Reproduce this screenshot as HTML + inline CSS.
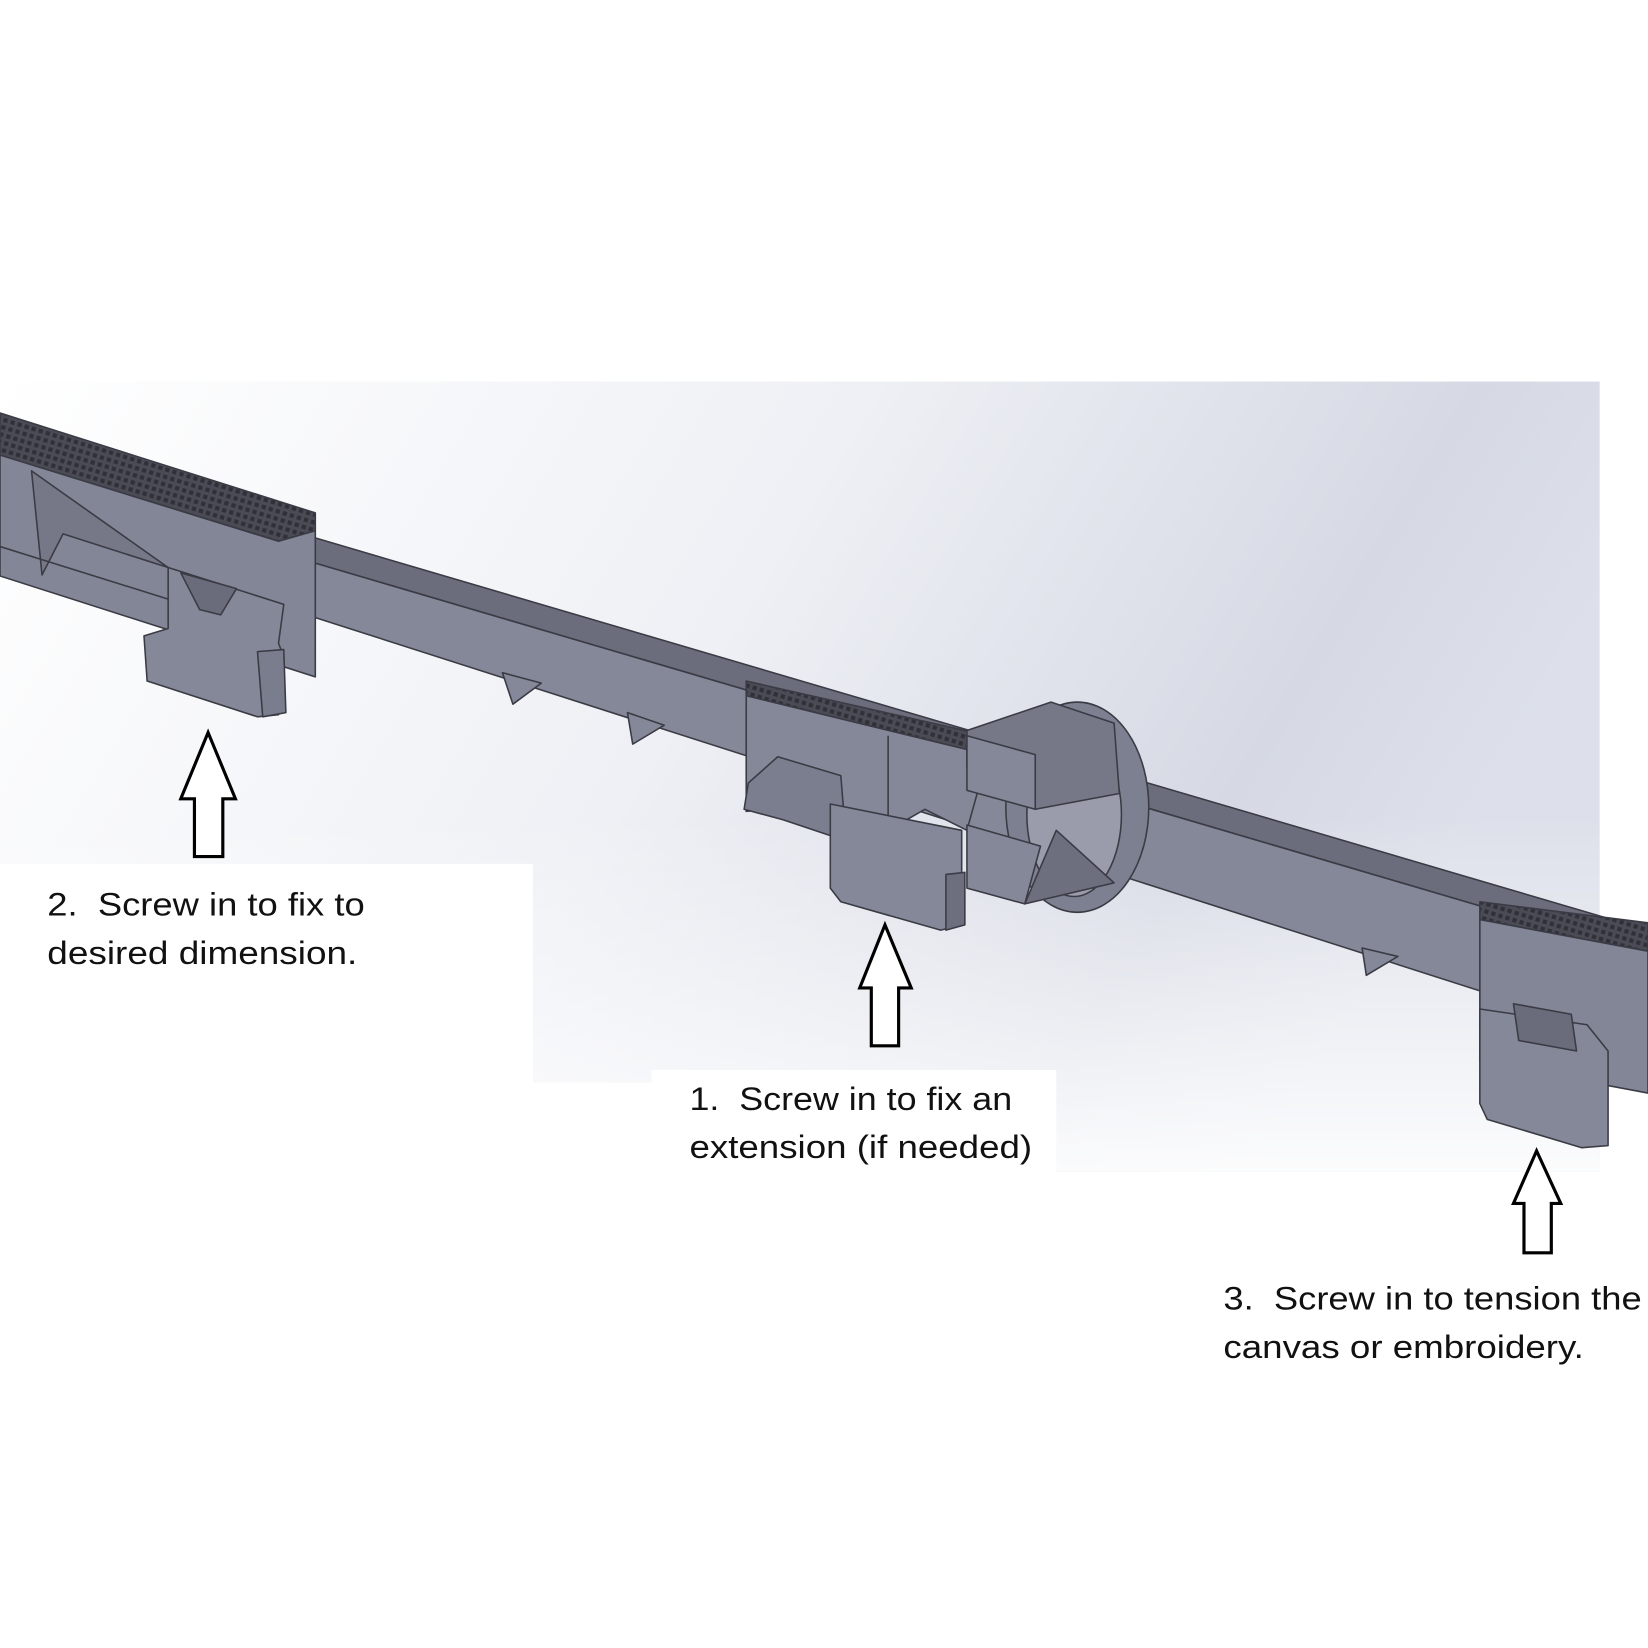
<!DOCTYPE html>
<html><head><meta charset="utf-8"><style>
html,body{margin:0;padding:0;background:#fff;width:1648px;height:1648px;overflow:hidden}
svg{display:block}
</style></head><body>
<svg width="1648" height="1648" viewBox="0 0 1568 1568" xmlns="http://www.w3.org/2000/svg">
<defs>
<linearGradient id="bg" x1="0" y1="0" x2="1" y2="0.3">
<stop offset="0" stop-color="#ffffff"/>
<stop offset="0.5" stop-color="#eef0f5"/>
<stop offset="0.85" stop-color="#d6d9e4"/>
<stop offset="1" stop-color="#dde0ea"/>
</linearGradient>
<linearGradient id="bg2" x1="0" y1="0" x2="0" y2="1">
<stop offset="0" stop-color="#fff" stop-opacity="0"/>
<stop offset="0.55" stop-color="#fff" stop-opacity="0"/>
<stop offset="1" stop-color="#fff" stop-opacity="0.9"/>
</linearGradient>
<pattern id="kn" width="7" height="7" patternUnits="userSpaceOnUse" patternTransform="rotate(17)">
<rect width="7" height="7" fill="#4a4b55"/>
<rect x="1" y="1" width="4" height="4" fill="#2f3038"/>
</pattern>
</defs>
<rect width="1568" height="1568" fill="#fff"/>
<rect x="0" y="363" width="1522" height="752" fill="url(#bg)"/>
<rect x="0" y="363" width="1522" height="752" fill="url(#bg2)"/>

<g stroke="#3a3b44" stroke-width="1.5" stroke-linejoin="round">
<polygon points="270,503 1568,885 1568,909 270,527" fill="#6b6d7d"/>
<polygon points="270,527 1568,909 1568,994 270,578" fill="#858899"/>
<polygon points="478,640 488,670 515,650" fill="#858899"/>
<polygon points="597,678 602,708 632,690" fill="#858899"/>
<polygon points="1296,902 1300,928 1330,910" fill="#858899"/>

<polygon points="0,393 300,488 300,505 265,515 0,433" fill="url(#kn)"/>
<polygon points="0,433 265,515 300,505 300,644 0,548" fill="#838697"/>
<polygon points="30,448 40,547 60,508 160,540" fill="#767888"/>
<line x1="0" y1="520" x2="160" y2="570"/>
<polygon points="160,540 270,575 265,612 270,625 265,680 245,682 140,648 137,605 160,598" fill="#858899"/>
<polygon points="172,545 225,560 210,585 190,580" fill="#6a6c7c"/>
<polygon points="245,620 270,618 272,678 250,682" fill="#7a7d8e"/>

<polygon points="710,648 940,700 940,718 710,662" fill="url(#kn)"/>
<polygon points="710,662 940,718 920,790 880,770 845,790 790,765 710,772" fill="#858899"/>
<polygon points="740,720 800,738 805,800 745,780 708,770 712,745" fill="#7b7e8f"/>
<line x1="845" y1="700" x2="845" y2="790"/>
<polygon points="790,765 915,790 915,880 895,885 800,858 790,845" fill="#858899"/>
<polygon points="900,832 918,830 918,880 900,885" fill="#6d6f7f"/>
<ellipse cx="1025" cy="768" rx="68" ry="100" fill="#7d8091"/>
<ellipse cx="1022" cy="775" rx="45" ry="78" fill="#9a9cab"/>
<polygon points="920,695 1000,668 1060,688 1065,755 985,770 920,730" fill="#767888"/>
<polygon points="920,700 985,718 985,770 920,752" fill="#858899"/>
<polygon points="920,785 990,805 975,860 920,845" fill="#858899"/>
<polygon points="975,860 1060,840 1005,790" fill="#6d6f7f"/>

<polygon points="1408,858 1568,878 1568,905 1408,875" fill="url(#kn)"/>
<polygon points="1408,875 1568,905 1568,1040 1408,1010" fill="#838697"/>
<polygon points="1408,960 1510,975 1530,1000 1530,1090 1505,1092 1415,1065 1408,1050" fill="#858899"/>
<polygon points="1440,955 1495,965 1500,1000 1445,990" fill="#6a6c7c"/>
</g>

<rect x="0" y="822" width="507" height="293" fill="#fff"/>
<rect x="415" y="1030" width="205" height="85" fill="#fff"/>
<rect x="620" y="1018" width="385" height="97" fill="#fff"/>

<g fill="#fff" stroke="#000" stroke-width="3" stroke-linejoin="miter">
<polygon points="198,697 224,760 212,760 212,815 185,815 185,760 172,760"/>
<polygon points="842,880 867,940 855,940 855,995 829,995 829,940 818,940"/>
<polygon points="1462,1095 1485,1145 1476,1145 1476,1192 1450,1192 1450,1145 1440,1145"/>
</g>

<g font-family="'Liberation Sans', sans-serif" font-size="31" fill="#111" lengthAdjust="spacingAndGlyphs">
<text x="45" y="871" textLength="302" lengthAdjust="spacingAndGlyphs">2.&#160; Screw in to fix to</text>
<text x="45" y="917" textLength="295" lengthAdjust="spacingAndGlyphs">desired dimension.</text>
<text x="656" y="1056" textLength="307" lengthAdjust="spacingAndGlyphs">1.&#160; Screw in to fix an</text>
<text x="656" y="1102" textLength="326" lengthAdjust="spacingAndGlyphs">extension (if needed)</text>
<text x="1164" y="1246" textLength="398" lengthAdjust="spacingAndGlyphs">3.&#160; Screw in to tension the</text>
<text x="1164" y="1292" textLength="343" lengthAdjust="spacingAndGlyphs">canvas or embroidery.</text>
</g>
</svg>
</body></html>
